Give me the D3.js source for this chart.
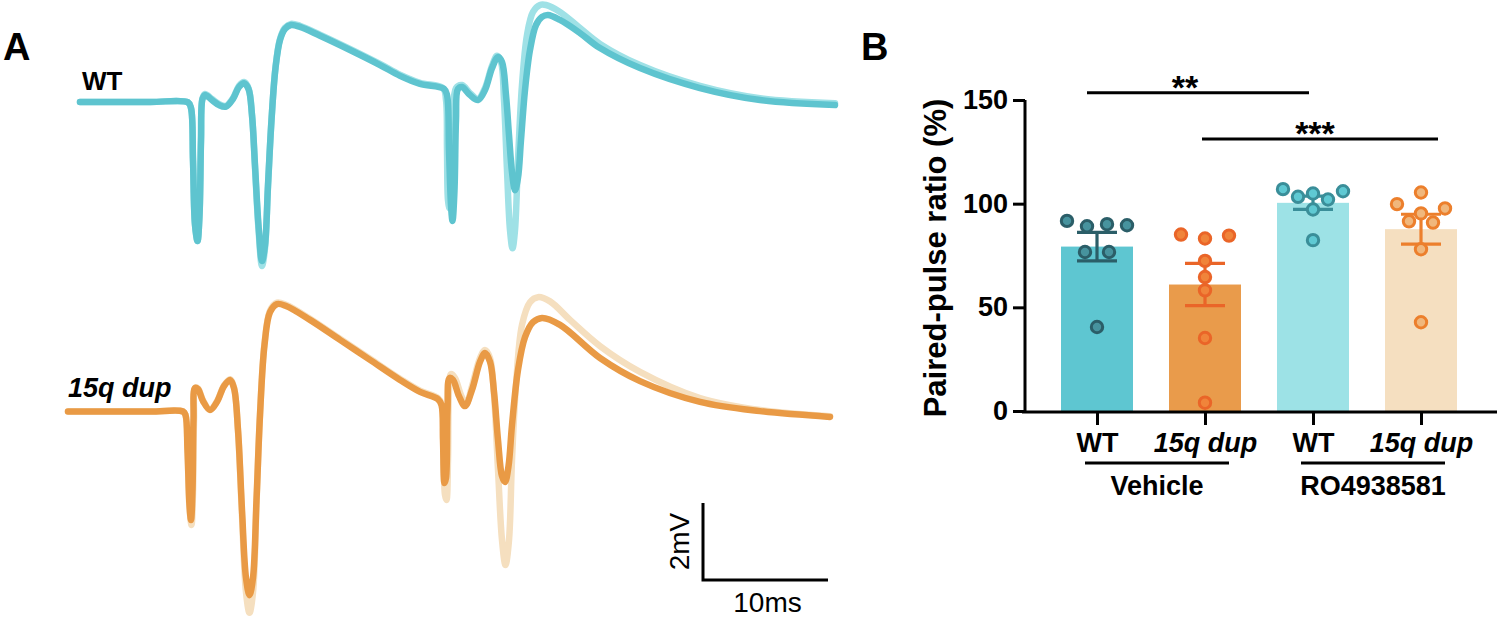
<!DOCTYPE html>
<html><head><meta charset="utf-8">
<script src="https://cdn.jsdelivr.net/npm/d3@7"></script>
<style>body{margin:0;background:#fff}svg{display:block}text{font-family:"Liberation Sans",Arial,sans-serif}</style>
</head><body><svg id="c" width="1500" height="619"></svg>
<script>
// ---------- Panel A data: [time (ms), voltage (mV)] ----------
const wtDark = [[0.96,0],[6.56,0],[9.6,-0.01],[9.84,-0.16],[10.0,-1.51],[10.16,-3.19],[10.36,-3.61],[10.52,-2.94],[10.64,-0.99],[10.76,0.08],[10.96,0.18],[11.52,0.05],[12.08,-0.08],[12.64,-0.12],[13.2,0.08],[13.68,0.39],[14.08,0.49],[14.44,0.34],[14.72,-0.34],[14.96,-1.64],[15.24,-3.2],[15.52,-4.13],[15.76,-3.72],[16.0,-2.16],[16.28,-0.47],[16.6,0.88],[16.96,1.61],[17.36,1.9],[17.84,2.0],[18.56,1.95],[20.16,1.72],[22.56,1.35],[24.96,0.96],[26.56,0.68],[28.16,0.47],[30.08,0.34],[30.32,0.18],[30.48,-1.25],[30.64,-2.68],[30.76,-3.09],[30.92,-2.29],[31.04,-0.47],[31.2,0.34],[31.52,0.39],[32.16,0.18],[32.8,0.05],[33.36,0.31],[33.92,0.88],[34.4,1.17],[34.72,1.04],[35.04,0.18],[35.28,-0.86],[35.52,-1.82],[35.76,-2.29],[36.0,-1.97],[36.24,-0.99],[36.56,0.31],[36.96,1.35],[37.44,2.0],[37.92,2.21],[38.4,2.26],[39.36,2.13],[40.96,1.79],[42.56,1.40],[45.76,0.88],[50.56,0.36],[55.36,0.05],[61.36,-0.08]];
const wtLight = [[0.96,0],[6.56,0],[9.6,-0.01],[9.84,-0.16],[10.0,-1.51],[10.16,-3.19],[10.36,-3.61],[10.52,-2.94],[10.64,-0.99],[10.76,0.1],[10.96,0.21],[11.52,0.08],[12.08,-0.05],[12.64,-0.1],[13.2,0.1],[13.68,0.42],[14.08,0.52],[14.44,0.36],[14.72,-0.34],[14.96,-1.7],[15.24,-3.3],[15.52,-4.26],[15.76,-3.8],[16.0,-2.2],[16.28,-0.47],[16.6,0.9],[16.96,1.64],[17.36,1.93],[17.84,2.03],[18.56,1.98],[20.16,1.75],[22.56,1.38],[24.96,0.99],[26.56,0.71],[28.16,0.5],[30.0,0.36],[30.24,0.05],[30.32,-1.25],[30.4,-2.55],[30.52,-2.76],[30.64,-2.03],[30.8,-0.47],[31.04,0.36],[31.52,0.44],[32.16,0.23],[32.8,0.08],[33.36,0.36],[33.92,0.94],[34.32,1.2],[34.64,1.04],[34.88,0.05],[35.12,-1.77],[35.36,-3.33],[35.56,-3.8],[35.76,-3.33],[36.0,-1.51],[36.32,0.44],[36.72,1.74],[37.2,2.34],[37.76,2.52],[38.24,2.52],[39.36,2.34],[40.96,1.92],[42.56,1.51],[45.76,0.96],[50.56,0.42],[55.36,0.1],[61.36,-0.03]];
const dupDark = [[0,0],[6.56,0],[9.2,0],[9.4,-0.09],[9.56,-1.0],[9.72,-2.43],[9.84,-2.82],[9.96,-2.04],[10.04,-0.22],[10.16,0.61],[10.4,0.58],[10.8,0.27],[11.36,0.04],[11.92,0.25],[12.48,0.66],[12.96,0.82],[13.28,0.61],[13.6,-0.48],[13.92,-2.56],[14.24,-4.32],[14.52,-4.77],[14.8,-4.32],[15.08,-2.3],[15.36,-0.09],[15.72,1.73],[16.16,2.58],[16.72,2.79],[17.44,2.74],[19.36,2.38],[21.76,1.86],[24.16,1.34],[26.56,0.82],[28.16,0.51],[29.6,0.32],[29.88,0.17],[30.0,-0.74],[30.12,-1.86],[30.24,-1.73],[30.36,0.04],[30.52,0.87],[30.8,0.82],[31.28,0.4],[31.76,0.14],[32.32,0.56],[32.96,1.29],[33.36,1.52],[33.76,1.29],[34.08,0.51],[34.4,-0.74],[34.72,-1.68],[34.96,-1.83],[35.24,-1.42],[35.52,-0.35],[36.0,1.08],[36.56,1.93],[37.2,2.32],[37.92,2.43],[39.36,2.25],[42.56,1.39],[45.76,0.79],[50.56,0.25],[55.36,0.01],[60.96,-0.14]];
const dupLight = [[0,0],[6.56,0],[9.2,0],[9.4,-0.09],[9.56,-1.0],[9.72,-2.5],[9.88,-2.95],[10.0,-2.1],[10.08,-0.22],[10.18,0.62],[10.4,0.6],[10.8,0.29],[11.36,0.05],[11.92,0.27],[12.48,0.68],[12.96,0.84],[13.28,0.62],[13.6,-0.5],[13.92,-2.7],[14.24,-4.7],[14.52,-5.23],[14.8,-4.7],[15.08,-2.4],[15.36,-0.09],[15.72,1.76],[16.16,2.62],[16.72,2.83],[17.44,2.77],[19.36,2.41],[21.76,1.89],[24.16,1.37],[26.56,0.85],[28.16,0.54],[29.6,0.35],[29.92,0.17],[30.04,-1.0],[30.16,-2.17],[30.28,-2.3],[30.4,-1.26],[30.48,0.56],[30.64,0.97],[30.96,0.87],[31.44,0.43],[31.84,0.19],[32.32,0.66],[32.96,1.39],[33.36,1.6],[33.76,1.39],[34.08,0.43],[34.4,-1.51],[34.72,-3.34],[35.0,-3.99],[35.28,-3.34],[35.52,-1.26],[35.84,0.69],[36.32,2.25],[36.96,2.84],[37.6,2.97],[38.56,2.86],[40.16,2.38],[42.56,1.7],[45.76,1.03],[50.56,0.35],[55.36,0.04],[60.96,-0.12]];
const traceLabels = ["WT", "15q dup"];
const scaleBarMs = 10, scaleBarMv = 2;

// ---------- Panel B data ----------
const genotypes = ["WT", "15q dup", "WT", "15q dup"];
const treatments = ["Vehicle", "RO4938581"];
const means = [79.3, 61, 100.4, 87.7];
const sems = [6.9, 10.2, 3.2, 7.2];
const pts0 = [91.7, 89.1, 90.1, 89.6, 76.7, 76.7, 40.5];
const pts1 = [85.1, 83.2, 84.6, 72.4, 64.6, 58.2, 35.2, 4.0];
const pts2 = [107, 103.3, 104.9, 102, 106, 97.2, 82.4];
const pts3 = [105.4, 99.8, 95.3, 97.7, 91.5, 90.9, 78, 42.8];
const points = [pts0, pts1, pts2, pts3];
const yTicks = [0, 50, 100, 150];
const sig = [{a:0, b:2, label:"**", level:153.5}, {a:1, b:3, label:"***", level:131.2}];

const barFill = ["#5ec6d1", "#e99b4b", "#9de2e6", "#f5dfc0"];
const ptStroke = ["#2b5e68", "#ea6528", "#3a8e99", "#ec7f2c"];
const ptFill = ["#47939e", "#f0843a", "#5fc9d3", "#f0b77c"];

const svg = d3.select("#c");

// ---------- Panel A ----------
const xA = d3.scaleLinear().domain([0, 10]).range([68, 193]);
const yWT = d3.scaleLinear().domain([0, 2]).range([102, 25]);
const yDup = d3.scaleLinear().domain([0, 2]).range([411.5, 334.5]);
const line = ys => d3.line().x(d => xA(d[0])).y(d => ys(d[1])).curve(d3.curveCatmullRom.alpha(0.5));
const drawTrace = (data, ys, color) => svg.append("path").attr("d", line(ys)(data))
  .attr("fill", "none").attr("stroke", color).attr("stroke-width", 6.5)
  .attr("stroke-linejoin", "round").attr("stroke-linecap", "round");
drawTrace(wtLight, yWT, "#9fe1e6");
drawTrace(wtDark, yWT, "#5ec4cf");
drawTrace(dupLight, yDup, "#f5dfbf");
drawTrace(dupDark, yDup, "#e99a45");

svg.append("text").text("A").attr("x", 3).attr("y", 60).attr("font-size", 38).attr("font-weight", "bold");
svg.append("text").text(traceLabels[0]).attr("x", 82).attr("y", 90).attr("font-size", 26).attr("font-weight", "bold");
svg.append("text").text(traceLabels[1]).attr("x", 68).attr("y", 397).attr("font-size", 27).attr("font-weight", "bold").attr("font-style", "italic");

// scale bar
const sbX = 703, sbY = 580;
const barLenX = xA(scaleBarMs) - xA(0);
const barLenY = yDup(0) - yDup(scaleBarMv);
svg.append("path").attr("d", `M${sbX},${sbY - barLenY}V${sbY}H${sbX + barLenX}`)
  .attr("fill", "none").attr("stroke", "#000").attr("stroke-width", 3);
svg.append("text").text(scaleBarMv + "mV").attr("transform", `translate(${sbX - 14},${sbY - barLenY / 2}) rotate(-90)`)
  .attr("text-anchor", "middle").attr("font-size", 28);
svg.append("text").text(scaleBarMs + "ms").attr("x", sbX + barLenX / 2 + 2).attr("y", 612)
  .attr("text-anchor", "middle").attr("font-size", 28);

// ---------- Panel B ----------
const y = d3.scaleLinear().domain([0, 150]).range([411, 100]);
const x = d3.scalePoint().domain([0, 1, 2, 3]).range([1097, 1421]);
const bw = 72;

svg.append("text").text("B").attr("x", 861).attr("y", 60).attr("font-size", 38).attr("font-weight", "bold");

svg.selectAll("rect.bar").data(means).join("rect").attr("class", "bar")
  .attr("x", (d, i) => x(i) - bw / 2).attr("width", bw)
  .attr("y", d => y(d)).attr("height", d => y(0) - y(d))
  .attr("fill", (d, i) => barFill[i]);

// error bars
means.forEach((m, i) => {
  const g = svg.append("g").attr("stroke", ptStroke[i]).attr("stroke-width", 3.2);
  g.append("line").attr("x1", x(i)).attr("x2", x(i)).attr("y1", y(m - sems[i])).attr("y2", y(m + sems[i]));
  [m - sems[i], m + sems[i]].forEach(v => g.append("line").attr("x1", x(i) - 20).attr("x2", x(i) + 20).attr("y1", y(v)).attr("y2", y(v)));
});

// scatter points (row-binned, spread symmetrically)
function layout(vals, cx) {
  const out = []; let bin = []; let firstY = 0;
  const flush = () => {
    const n = bin.length; const s = n > 1 ? Math.min(24, 60 / (n - 1)) : 0;
    bin.forEach((p, k) => { p.x = cx + (k - (n - 1) / 2) * s; });
    out.push(...bin); bin = [];
  };
  vals.forEach(v => {
    const py = y(v);
    if (bin.length && Math.abs(py - firstY) > 10.5) flush();
    if (!bin.length) firstY = py;
    bin.push({ v, y: py });
  });
  flush();
  return out;
}
points.forEach((vals, i) => {
  svg.append("g").selectAll("circle").data(layout(vals, x(i))).join("circle")
    .attr("cx", d => d.x).attr("cy", d => d.y).attr("r", 5.7)
    .attr("fill", ptFill[i]).attr("stroke", ptStroke[i]).attr("stroke-width", 3);
});

// y axis
const yAxis = svg.append("g").attr("transform", "translate(1025,0)")
  .call(d3.axisLeft(y).tickValues(yTicks).tickSize(12).tickSizeOuter(0).tickPadding(5));
yAxis.selectAll("path,line").attr("stroke", "#000").attr("stroke-width", 3);
yAxis.selectAll("text").attr("font-size", 27).attr("font-weight", "bold").attr("fill", "#000")
  .attr("font-family", '"Liberation Sans",Arial,sans-serif');
yAxis.select("path.domain").attr("d", `M0,${y(150)}V${y(0) + 1.5}`);

// x axis
const xAxis = svg.append("g").attr("transform", `translate(0,${y(0) + 1})`)
  .call(d3.axisBottom(x).tickSize(13).tickPadding(8).tickFormat(i => genotypes[i]));
xAxis.select("path.domain").remove();
xAxis.append("line").attr("x1", 1022).attr("x2", 1497).attr("y1", 0).attr("y2", 0);
xAxis.selectAll("line").attr("stroke", "#000").attr("stroke-width", 3);
xAxis.selectAll(".tick text").attr("font-size", 27).attr("font-weight", "bold").attr("fill", "#000")
  .attr("font-family", '"Liberation Sans",Arial,sans-serif')
  .attr("font-style", (d, i) => genotypes[i] === "15q dup" ? "italic" : "normal");

// treatment group labels
treatments.forEach((t, k) => {
  const a = x(2 * k), b = x(2 * k + 1);
  svg.append("line").attr("x1", a - 12).attr("x2", b + 24).attr("y1", 463).attr("y2", 463)
    .attr("stroke", "#000").attr("stroke-width", 3);
  svg.append("text").text(t).attr("x", (a + b) / 2 + 6).attr("y", 495).attr("text-anchor", "middle")
    .attr("font-size", 27).attr("font-weight", "bold");
});

// significance
const sigOff = [[-10, -4], [-3, 17]];
sig.forEach((s, k) => {
  const x1 = x(s.a) + sigOff[k][0], x2 = x(s.b) + sigOff[k][1];
  svg.append("line").attr("x1", x1).attr("x2", x2).attr("y1", y(s.level)).attr("y2", y(s.level))
    .attr("stroke", "#000").attr("stroke-width", 3);
  svg.append("text").text(s.label).attr("x", (x1 + x2) / 2 - 13 + k * 8).attr("y", y(s.level) + 6)
    .attr("text-anchor", "middle").attr("font-size", 34).attr("font-weight", "bold");
});

// y label
svg.append("text").text("Paired-pulse ratio (%)").attr("transform", "translate(946,258) rotate(-90)")
  .attr("text-anchor", "middle").attr("font-size", 31).attr("font-weight", "bold");
</script></body></html>
